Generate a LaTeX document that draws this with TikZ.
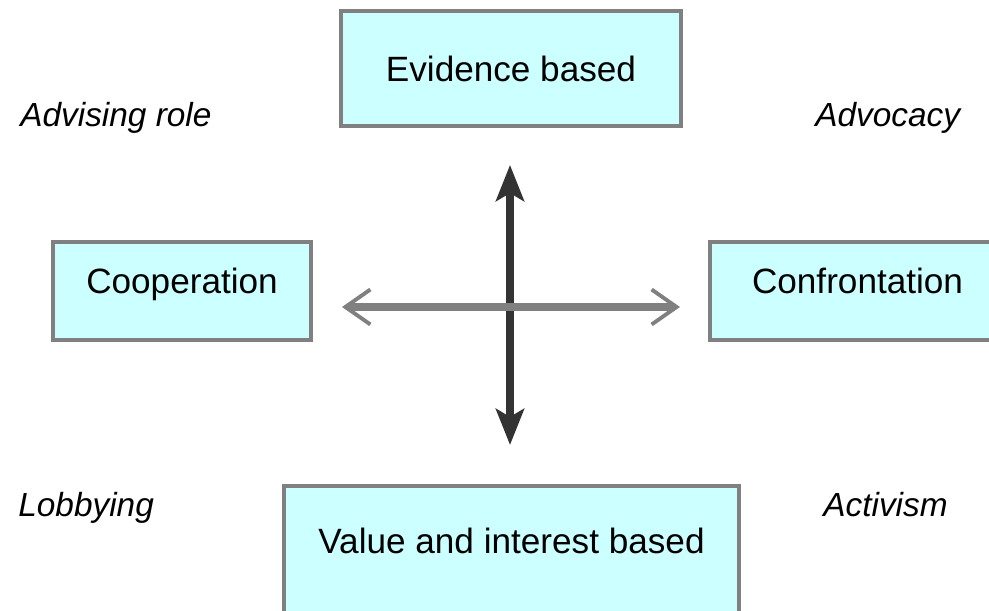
\documentclass[tikz,border=0pt]{standalone}
\usepackage{fontspec}
\setmainfont{Liberation Sans}
\usepackage{xcolor}
\usetikzlibrary{arrows.meta, positioning}

\definecolor{boxfill}{HTML}{CCFFFF}
\definecolor{boxline}{HTML}{808080}
\definecolor{axisdark}{HTML}{333333}
\definecolor{axisgray}{HTML}{808080}

\begin{document}
\begin{tikzpicture}[
    box/.style={rectangle, draw=boxline, fill=boxfill, line width=2.3pt, text centered, font=\fontsize{20}{24}\selectfont},
    role/.style={font=\fontsize{19}{23}\selectfont\itshape, anchor=base west, inner sep=0pt},
    vaxis/.style={line width=4.6pt, draw=axisdark, {Stealth[length=0.72cm,width=0.56cm,inset=0.16cm]}-{Stealth[length=0.72cm,width=0.56cm,inset=0.16cm]}},
    haxis/.style={line width=4.6pt, draw=axisgray, {Straight Barb[length=0.5cm,width=0.7cm,line width=2.2pt]}-{Straight Barb[length=0.5cm,width=0.7cm,line width=2.2pt]}}
]
\useasboundingbox (0,0) rectangle (19.78,12.22);

% Boxes
\node[box, minimum width=6.8cm, minimum height=2.3cm] (evid) at (10.22,10.85) {Evidence based};
\node[box, minimum width=5.16cm, minimum height=1.96cm, text height=0.51cm, text depth=0.41cm] (coop) at (3.64,6.40) {Cooperation};
\node[box, anchor=west, minimum width=5.9cm, minimum height=1.96cm, text height=0.51cm, text depth=0.41cm] (conf) at (14.16,6.40) {Confrontation};
\node[box, anchor=base, minimum width=9.1cm, text height=1.24cm, text depth=1.2cm] (value) at (10.23,1.15) {Value and interest based};

% Quadrant labels
\node[role] (advising) at (0.40,9.68) {Advising role};
\node[role] (advocacy) at (16.30,9.68) {Advocacy};
\node[role] (lobbying) at (0.36,1.88) {Lobbying};
\node[role] (activism) at (16.46,1.88) {Activism};

% Axis ends
\coordinate (north) at (10.20,8.92);
\coordinate (south) at (10.20,3.32);
\coordinate (west) at (6.84,6.08);
\coordinate (east) at (13.60,6.08);

% Arrows
\draw[vaxis] (south) -- (north);
\draw[haxis] (west) -- (east);

\end{tikzpicture}
\end{document}
